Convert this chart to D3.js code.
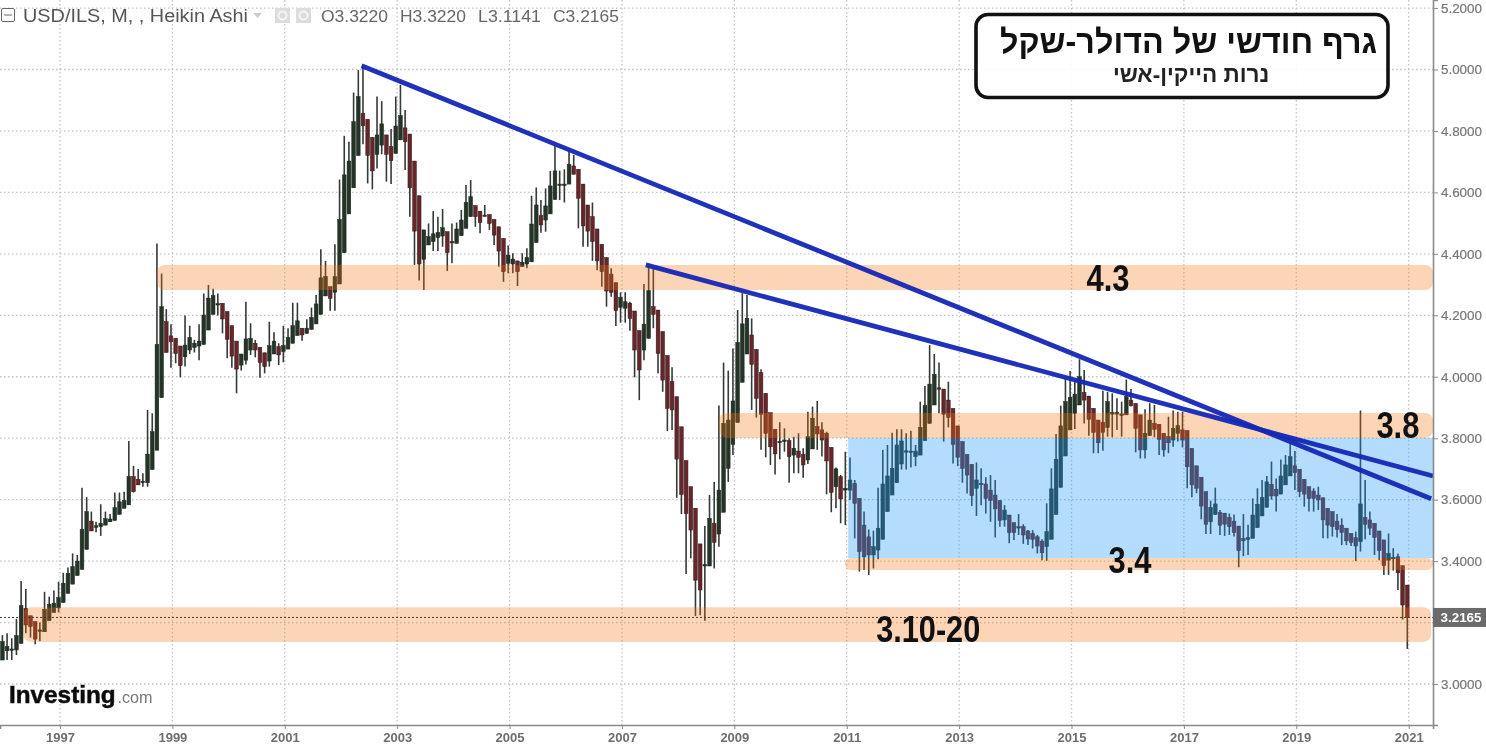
<!DOCTYPE html>
<html lang="he">
<head>
<meta charset="utf-8">
<title>USD/ILS</title>
<script src="https://cdn.jsdelivr.net/npm/d3@7/dist/d3.min.js"></script>
<style>
html,body{margin:0;padding:0;background:#fff;overflow:hidden}
svg{display:block;filter:blur(0.35px)}
text{font-family:"Liberation Sans",Arial,sans-serif}
</style>
</head>
<body>
<svg id="chart" width="1486" height="749"></svg>
<script>
// Monthly Heikin Ashi candles; first candle is 13 months before Jan 1997
const firstMonth = -13;
const opens = [
3.078,3.108,3.111,3.111,3.132,3.246,3.222,3.203,3.173,3.170,
3.206,3.233,3.248,3.265,3.295,3.325,3.353,3.373,3.438,3.530,
3.510,3.512,3.517,3.528,3.532,3.552,3.572,3.583,3.675,3.666,
3.657,3.655,3.698,3.761,3.932,4.179,4.133,4.125,4.100,4.065,
4.087,4.096,4.100,4.105,4.152,4.203,4.235,4.239,4.212,4.166,
4.116,4.038,4.054,4.087,4.109,4.096,4.078,4.051,4.074,4.098,
4.082,4.090,4.109,4.134,4.158,4.141,4.154,4.172,4.203,4.263,
4.293,4.275,4.302,4.404,4.530,4.615,4.720,4.857,4.838,4.779,
4.724,4.754,4.787,4.749,4.727,4.771,4.810,4.790,4.702,4.589,
4.382,4.429,4.440,4.453,4.458,4.472,4.440,4.434,4.459,4.483,
4.521,4.557,4.539,4.526,4.528,4.512,4.488,4.450,4.369,4.367,
4.377,4.358,4.367,4.374,4.437,4.524,4.510,4.530,4.577,4.624,
4.624,4.627,4.686,4.675,4.627,4.559,4.521,4.481,4.431,4.388,
4.334,4.306,4.226,4.223,4.239,4.214,4.150,4.087,4.125,4.228,
4.217,4.147,4.069,3.984,3.935,3.837,3.727,3.642,3.572,3.456,
3.384,3.384,3.523,3.488,3.559,3.702,3.780,3.851,3.982,4.074,
4.136,4.089,4.013,3.946,3.883,3.829,3.790,3.790,3.792,3.745,
3.758,3.747,3.729,3.765,3.838,3.827,3.816,3.770,3.642,3.675,
3.631,3.631,3.653,3.604,3.517,3.479,3.420,3.436,3.471,3.561,
3.615,3.655,3.716,3.756,3.755,3.740,3.745,3.792,3.848,3.908,
3.964,3.960,3.924,3.897,3.840,3.789,3.747,3.715,3.637,3.653,
3.651,3.631,3.615,3.597,3.534,3.550,3.525,3.509,3.512,3.498,
3.490,3.479,3.465,3.447,3.471,3.552,3.640,3.742,3.827,3.881,
3.908,3.949,3.937,3.897,3.859,3.852,3.835,3.879,3.879,3.874,
3.876,3.924,3.913,3.876,3.762,3.808,3.848,3.845,3.816,3.805,
3.794,3.816,3.827,3.825,3.767,3.710,3.673,3.626,3.528,3.552,
3.558,3.556,3.542,3.530,3.514,3.474,3.471,3.474,3.509,3.547,
3.575,3.650,3.634,3.618,3.648,3.677,3.710,3.699,3.666,3.642,
3.628,3.615,3.606,3.572,3.561,3.530,3.517,3.507,3.490,3.476,
3.463,3.542,3.534,3.523,3.498,3.469,3.403,3.408,3.414,3.385,3.322];
const closes = [
3.138,3.122,3.114,3.157,3.255,3.192,3.187,3.146,3.176,3.243,
3.259,3.263,3.281,3.328,3.360,3.382,3.400,3.503,3.561,3.498,
3.515,3.523,3.538,3.537,3.574,3.593,3.597,3.675,3.626,3.648,
3.660,3.748,3.821,4.105,4.228,4.079,4.114,4.076,4.036,4.103,
4.128,4.109,4.116,4.201,4.256,4.264,4.238,4.188,4.122,4.067,
4.025,4.074,4.123,4.125,4.087,4.047,4.033,4.101,4.116,4.071,
4.101,4.128,4.166,4.182,4.136,4.158,4.193,4.237,4.322,4.326,
4.255,4.326,4.512,4.657,4.702,4.830,4.912,4.817,4.720,4.670,
4.787,4.823,4.724,4.703,4.816,4.850,4.765,4.615,4.474,4.367,
4.478,4.456,4.465,4.469,4.485,4.404,4.436,4.481,4.510,4.567,
4.586,4.521,4.502,4.522,4.499,4.461,4.409,4.342,4.396,4.383,
4.342,4.372,4.388,4.497,4.559,4.494,4.556,4.621,4.670,4.627,
4.627,4.691,4.659,4.581,4.491,4.474,4.440,4.377,4.342,4.279,
4.275,4.215,4.258,4.244,4.190,4.087,4.022,4.171,4.280,4.203,
4.076,3.989,3.897,3.892,3.732,3.617,3.555,3.501,3.338,3.306,
3.389,3.539,3.461,3.631,3.848,3.859,3.921,4.112,4.172,4.190,
4.040,3.930,3.878,3.816,3.772,3.749,3.785,3.794,3.740,3.767,
3.738,3.713,3.805,3.865,3.814,3.794,3.726,3.624,3.700,3.602,
3.637,3.664,3.588,3.431,3.414,3.420,3.447,3.507,3.651,3.677,
3.702,3.778,3.791,3.759,3.758,3.758,3.835,3.906,3.976,4.008,
3.960,3.878,3.868,3.780,3.738,3.702,3.680,3.613,3.664,3.649,
3.604,3.597,3.570,3.532,3.566,3.493,3.493,3.512,3.485,3.472,
3.471,3.449,3.427,3.496,3.635,3.731,3.840,3.919,3.933,3.943,
4.000,3.924,3.861,3.819,3.785,3.819,3.919,3.883,3.883,3.879,
3.935,3.906,3.832,3.762,3.816,3.859,3.829,3.796,3.762,3.785,
3.832,3.841,3.794,3.707,3.648,3.637,3.579,3.520,3.575,3.586,
3.517,3.520,3.512,3.493,3.434,3.466,3.476,3.550,3.585,3.607,
3.658,3.612,3.612,3.677,3.713,3.740,3.688,3.626,3.618,3.604,
3.604,3.599,3.534,3.517,3.512,3.503,3.493,3.466,3.460,3.449,
3.586,3.520,3.507,3.477,3.434,3.385,3.425,3.412,3.362,3.257,3.2165];
const highs = [
3.159,3.165,3.149,3.212,3.335,3.309,3.222,3.203,3.200,3.300,
3.284,3.304,3.333,3.362,3.379,3.425,3.420,3.639,3.608,3.561,
3.528,3.585,3.561,3.553,3.623,3.623,3.626,3.791,3.710,3.700,
3.686,3.892,3.881,4.434,4.336,4.220,4.171,4.125,4.100,4.199,
4.166,4.120,4.171,4.271,4.299,4.286,4.271,4.239,4.212,4.166,
4.116,4.074,4.244,4.174,4.120,4.096,4.078,4.179,4.145,4.109,
4.166,4.158,4.241,4.241,4.158,4.187,4.225,4.266,4.415,4.377,
4.293,4.431,4.642,4.784,4.765,4.925,4.998,5.010,4.838,4.779,
4.912,4.897,4.787,4.806,4.912,4.950,4.868,4.790,4.702,4.589,
4.478,4.499,4.539,4.521,4.546,4.472,4.499,4.502,4.543,4.624,
4.640,4.557,4.539,4.559,4.528,4.512,4.488,4.450,4.427,4.402,
4.377,4.402,4.418,4.589,4.616,4.575,4.613,4.670,4.751,4.671,
4.675,4.733,4.722,4.675,4.627,4.559,4.567,4.481,4.431,4.388,
4.353,4.306,4.275,4.275,4.244,4.214,4.150,4.302,4.358,4.353,
4.217,4.147,4.069,4.031,3.935,3.837,3.727,3.642,3.572,3.456,
3.514,3.615,3.658,3.906,4.046,4.020,4.092,4.217,4.272,4.266,
4.190,4.089,4.024,3.946,3.883,3.829,3.852,3.832,3.800,3.805,
3.816,3.767,3.886,3.903,3.921,3.852,3.821,3.770,3.705,3.680,
3.756,3.737,3.664,3.604,3.561,3.503,3.499,3.639,3.762,3.778,
3.818,3.829,3.829,3.816,3.824,3.778,3.919,3.970,4.103,4.074,
4.046,3.960,3.984,3.897,3.840,3.789,3.747,3.715,3.721,3.702,
3.673,3.680,3.664,3.597,3.582,3.550,3.525,3.553,3.520,3.501,
3.501,3.485,3.471,3.588,3.702,3.814,3.906,3.995,4.019,3.990,
4.057,4.022,3.937,3.897,3.859,3.954,3.951,3.946,3.930,3.919,
3.991,3.960,3.913,3.876,3.894,3.914,3.908,3.845,3.816,3.870,
3.890,3.886,3.886,3.825,3.767,3.710,3.673,3.626,3.597,3.639,
3.566,3.556,3.555,3.552,3.514,3.553,3.518,3.604,3.637,3.664,
3.677,3.724,3.669,3.731,3.745,3.783,3.758,3.699,3.666,3.642,
3.637,3.642,3.606,3.572,3.561,3.553,3.539,3.507,3.490,3.496,
3.890,3.664,3.561,3.523,3.498,3.469,3.490,3.442,3.425,3.385,3.322];
const lows = [
3.078,3.078,3.078,3.094,3.132,3.165,3.151,3.129,3.140,3.170,
3.206,3.233,3.233,3.265,3.295,3.325,3.353,3.373,3.438,3.498,
3.494,3.482,3.517,3.528,3.532,3.552,3.572,3.583,3.623,3.648,
3.642,3.642,3.698,3.761,3.932,4.079,4.029,4.044,3.998,4.033,
4.074,4.079,4.054,4.105,4.152,4.203,4.199,4.141,4.060,4.029,
3.946,4.020,4.040,4.071,4.063,3.997,4.011,4.033,4.074,4.038,
4.047,4.090,4.109,4.134,4.117,4.141,4.154,4.172,4.203,4.263,
4.215,4.215,4.302,4.404,4.530,4.615,4.720,4.757,4.629,4.610,
4.678,4.724,4.635,4.627,4.727,4.771,4.673,4.521,4.364,4.313,
4.282,4.429,4.409,4.409,4.423,4.344,4.369,4.434,4.459,4.483,
4.521,4.488,4.467,4.522,4.478,4.429,4.358,4.309,4.337,4.337,
4.295,4.358,4.353,4.374,4.437,4.469,4.472,4.530,4.577,4.575,
4.567,4.627,4.659,4.483,4.423,4.423,4.377,4.347,4.293,4.228,
4.260,4.165,4.176,4.176,4.150,3.998,3.924,4.054,4.125,4.158,
4.011,3.951,3.823,3.827,3.606,3.553,3.358,3.409,3.221,3.224,
3.206,3.384,3.376,3.447,3.559,3.658,3.745,3.851,3.982,4.074,
3.892,3.867,3.762,3.738,3.713,3.682,3.731,3.756,3.655,3.686,
3.686,3.671,3.716,3.765,3.762,3.740,3.617,3.559,3.572,3.523,
3.517,3.599,3.474,3.366,3.371,3.355,3.376,3.406,3.471,3.561,
3.615,3.655,3.698,3.698,3.705,3.709,3.745,3.792,3.848,3.908,
3.881,3.789,3.835,3.718,3.709,3.655,3.620,3.579,3.547,3.582,
3.555,3.528,3.477,3.512,3.512,3.458,3.469,3.485,3.456,3.452,
3.441,3.425,3.403,3.401,3.471,3.552,3.640,3.742,3.827,3.830,
3.908,3.848,3.808,3.751,3.751,3.759,3.805,3.803,3.827,3.805,
3.876,3.903,3.754,3.734,3.734,3.808,3.803,3.745,3.740,3.751,
3.772,3.789,3.770,3.637,3.608,3.621,3.536,3.488,3.488,3.550,
3.485,3.482,3.485,3.480,3.380,3.416,3.420,3.474,3.509,3.547,
3.575,3.600,3.561,3.618,3.648,3.677,3.631,3.608,3.577,3.561,
3.561,3.566,3.474,3.474,3.480,3.477,3.452,3.452,3.449,3.400,
3.431,3.471,3.485,3.420,3.403,3.355,3.355,3.369,3.306,3.210,3.1141];

const yearTicks = [1997,1999,2001,2003,2005,2007,2009,2011,2013,2015,2017,2019,2021];
const priceTicks = [3.0,3.2,3.4,3.6,3.8,4.0,4.2,4.4,4.6,4.8,5.0,5.2];
const lastPrice = 3.2165;

// zones: [startMonth, endMonth, low, high]
const peachZones = [
  [20.7,293.2,4.282,4.364],
  [140.7,293.2,3.801,3.882],
  [167.6,293.2,3.371,3.41],
  [-7.9,292.8,3.137,3.25]
];
const blueZone = [168.3,293.2,3.41,3.801];

// trendlines: [startMonth, startPrice, endMonth, endPrice]
const trendLines = [
  [64.4,5.012,292.8,3.603],
  [125.1,4.364,293.2,3.677]
];
// labels: [text, month, price, width in px of the condensed lettering]
const levelLabels = [
  ["4.3",223.8,4.321,43],
  ["3.8",285.7,3.843,43],
  ["3.4",228.5,3.4035,43],
  ["3.10-20",185.4,3.178,104]
];
const titleLines = ["גרף חודשי של הדולר-שקל","נרות הייקין-אשי"];
const headerValues = [["O3.3220",321,67],["H3.3220",400,66],["L3.1141",478,63],["C3.2165",553,66]];

const plotW = 1433, plotH = 725;
const x = d3.scaleLinear().domain([-12.81,293.19]).range([0,plotW]);
const y = d3.scaleLinear().domain([2.8665,5.2262]).range([plotH,0]);
const monthOf = yr => (yr-1997)*12;
const candles = opens.map((o,k)=>({t:firstMonth+k+0.7,o,c:closes[k],h:highs[k],l:lows[k]}));

const svg = d3.select("#chart");

// grid
const grid = svg.append("g").attr("stroke","#c4c4c4").attr("stroke-width",1.3).attr("stroke-dasharray","1.5 2.5");
grid.selectAll("line.h").data(priceTicks).join("line").attr("class","h")
  .attr("x1",0).attr("x2",plotW).attr("y1",d=>y(d)).attr("y2",d=>y(d));
grid.selectAll("line.v").data(yearTicks).join("line").attr("class","v")
  .attr("x1",d=>x(monthOf(d))).attr("x2",d=>x(monthOf(d))).attr("y1",0).attr("y2",plotH);

// candles
const bw = 3.7;
const cg = svg.append("g");
const candle = cg.selectAll("g").data(candles).join("g");
candle.append("line").attr("x1",d=>x(d.t)).attr("x2",d=>x(d.t))
  .attr("y1",d=>y(d.h)).attr("y2",d=>y(d.l))
  .attr("stroke","#343a36").attr("stroke-width",1.6);
candle.append("rect").attr("x",d=>x(d.t)-bw/2).attr("width",bw)
  .attr("y",d=>y(Math.max(d.o,d.c)))
  .attr("height",d=>Math.max(1.4,Math.abs(y(d.o)-y(d.c))))
  .attr("fill",d=>d.c>=d.o?"#243528":"#66262a")
  .attr("stroke",d=>d.c>=d.o?"#1a241d":"#33191b").attr("stroke-width",0.5);

// zones over candles
const zoneG = svg.append("g");
zoneG.append("rect").attr("x",x(blueZone[0])).attr("width",x(blueZone[1])-x(blueZone[0]))
  .attr("y",y(blueZone[3])).attr("height",y(blueZone[2])-y(blueZone[3]))
  .attr("fill","#269bf9").attr("fill-opacity",0.35);
zoneG.selectAll("rect.p").data(peachZones).join("rect").attr("class","p")
  .attr("x",d=>x(d[0])).attr("width",d=>x(d[1])-x(d[0]))
  .attr("y",d=>y(d[3])).attr("height",d=>y(d[2])-y(d[3]))
  .attr("rx",d=>Math.min(8,(y(d[2])-y(d[3]))/2)).attr("fill","#f57312").attr("fill-opacity",0.3);

// last price dotted
svg.append("line").attr("x1",0).attr("x2",plotW).attr("y1",y(lastPrice)).attr("y2",y(lastPrice))
  .attr("stroke","#4a3a30").attr("stroke-width",1).attr("stroke-dasharray","2 2");

// trend lines
svg.append("g").selectAll("line").data(trendLines).join("line")
  .attr("x1",d=>x(d[0])).attr("y1",d=>y(d[1])).attr("x2",d=>x(d[2])).attr("y2",d=>y(d[3]))
  .attr("stroke","#1427b6").attr("stroke-width",4.8).attr("stroke-opacity",0.95);

// axes
const axisR = d3.axisRight(y).tickValues(priceTicks)
  .tickFormat(d=>Math.abs(d-3.2)<1e-6?"":d3.format(".4f")(d)).tickSize(5).tickPadding(3);
const gR = svg.append("g").attr("transform",`translate(${plotW},0)`).call(axisR);
gR.select(".domain").attr("stroke","#8a8a8a").attr("stroke-width",1.6);
gR.selectAll(".tick line").attr("stroke","#8a8a8a");
gR.selectAll(".tick text").attr("fill","#777").attr("stroke","#777").attr("stroke-width",0.2)
  .attr("font-size",13.4).style("font-family",'"Liberation Sans",sans-serif');
const axisB = d3.axisBottom(x).tickValues(yearTicks.map(monthOf)).tickFormat(d=>1997+d/12).tickSize(4).tickPadding(4);
const gB = svg.append("g").attr("transform",`translate(0,${plotH})`).call(axisB);
gB.select(".domain").attr("stroke","#8a8a8a").attr("stroke-width",1.6);
gB.selectAll(".tick line").attr("stroke","#8a8a8a");
gB.selectAll(".tick text").attr("fill","#6e6e6e").attr("font-size",13).attr("font-weight","bold").style("font-family",'"Liberation Sans",sans-serif');

// last price tag
svg.append("rect").attr("x",plotW).attr("y",y(lastPrice)-9.5).attr("width",53).attr("height",19).attr("fill","#6b6b6b");
svg.append("text").attr("x",1461).attr("y",y(lastPrice)+4.7).attr("text-anchor","middle")
  .attr("fill","#fff").attr("font-size",13.4).attr("font-weight","bold").text(d3.format(".4f")(lastPrice));

// level labels
svg.append("g").selectAll("text").data(levelLabels).join("text")
  .attr("x",d=>x(d[1])).attr("y",d=>y(d[2])+13).attr("text-anchor","middle")
  .attr("fill","#111").attr("font-size",37).attr("font-weight","bold")
  .attr("textLength",d=>d[3]).attr("lengthAdjust","spacingAndGlyphs").text(d=>d[0]);

// title box
svg.append("rect").attr("x",976).attr("y",14.5).attr("width",412).attr("height",83).attr("rx",12)
  .attr("fill","#fff").attr("fill-opacity",0.88).attr("stroke","#111").attr("stroke-width",3.6);
svg.append("text").attr("x",1188.5).attr("y",53).attr("text-anchor","middle").attr("direction","rtl")
  .attr("fill","#111").attr("font-size",33).attr("font-weight","bold")
  .attr("textLength",377).attr("lengthAdjust","spacingAndGlyphs").text(titleLines[0]);
svg.append("text").attr("x",1191).attr("y",81.5).attr("text-anchor","middle").attr("direction","rtl")
  .attr("fill","#222").attr("font-size",22.5).attr("font-weight","bold").text(titleLines[1]);

// header
svg.append("rect").attr("x",1.5).attr("y",8.5).attr("width",13).attr("height",13).attr("rx",1.5).attr("fill","none").attr("stroke","#666");
svg.append("line").attr("x1",4).attr("x2",12).attr("y1",15).attr("y2",15).attr("stroke","#666");
svg.append("text").attr("x",23).attr("y",22).attr("fill","#555").attr("font-size",17.5)
  .attr("textLength",225).attr("lengthAdjust","spacingAndGlyphs").text("USD/ILS, M, , Heikin Ashi");
svg.append("path").attr("d","M253,13h9l-4.5,5z").attr("fill","#ccc");
[275,296].forEach(v=>{
  svg.append("rect").attr("x",v).attr("y",8).attr("width",15).attr("height",15).attr("fill","#dcdcdc");
  svg.append("circle").attr("cx",v+7.5).attr("cy",15.5).attr("r",4).attr("fill","none").attr("stroke","#f4f4f4").attr("stroke-width",2);
});
svg.append("g").selectAll("text").data(headerValues).join("text")
  .attr("x",d=>d[1]).attr("y",22).attr("fill","#666").attr("font-size",16.6)
  .attr("textLength",d=>d[2]).attr("lengthAdjust","spacingAndGlyphs").text(d=>d[0]);

// logo
svg.append("text").attr("x",9).attr("y",703).attr("fill","#0c0c0c").attr("stroke","#0c0c0c").attr("stroke-width",0.5)
  .attr("font-size",24.3).attr("font-weight","bold").text("Investing");
svg.append("text").attr("x",117.5).attr("y",703).attr("fill","#777").attr("font-size",17)
  .attr("textLength",35).attr("lengthAdjust","spacingAndGlyphs").text(".com");
</script>
</body>
</html>
